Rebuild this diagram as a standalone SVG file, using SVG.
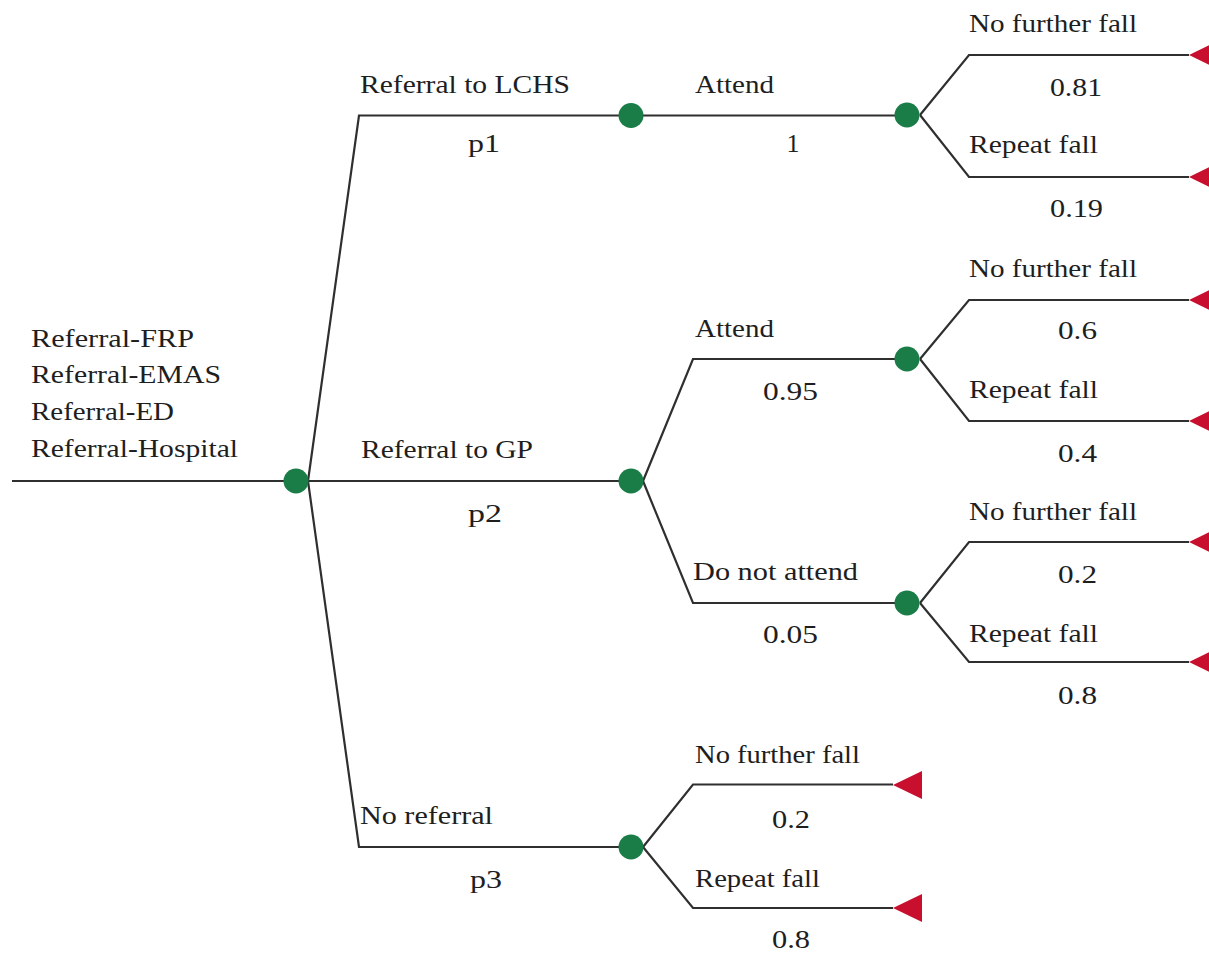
<svg xmlns="http://www.w3.org/2000/svg" width="1209" height="957" viewBox="0 0 1209 957">
<defs>
<style>
.bg{fill:#ffffff}
.edge{fill:none;stroke:#2f2f2f;stroke-width:2.2;stroke-linejoin:miter}
.chance{fill:#1a7c46}
.term{fill:#c8102e}
text{font-family:"Liberation Serif","Times New Roman",serif;font-size:26px;fill:#1e1e1e}
.mid{text-anchor:middle}
</style>
</defs>
<rect class="bg" x="0" y="0" width="1209" height="957"/>
<g id="connectors">
<path class="edge" d="M12 481 H296"/>
<path class="edge" d="M308 481 L359 115.5 H631"/>
<path class="edge" d="M308 481 H631"/>
<path class="edge" d="M308 481 L359 847 H631"/>
<path class="edge" d="M631 115.5 H907"/>
<path class="edge" d="M920 115 L969 55 H1189"/>
<path class="edge" d="M920 115 L969 177 H1189"/>
<path class="edge" d="M643 481 L693 359 H907"/>
<path class="edge" d="M643 481 L693 603 H907"/>
<path class="edge" d="M920 359 L969 300 H1189"/>
<path class="edge" d="M920 359 L969 421 H1189"/>
<path class="edge" d="M920 603 L969 542 H1189"/>
<path class="edge" d="M920 603 L969 662 H1189"/>
<path class="edge" d="M643 847 L693 784.5 H893"/>
<path class="edge" d="M643 847 L693 908 H893"/>
</g>
<g id="labels">
<text x="31" y="347" textLength="163" lengthAdjust="spacingAndGlyphs">Referral-FRP</text>
<text x="31" y="383" textLength="190" lengthAdjust="spacingAndGlyphs">Referral-EMAS</text>
<text x="31" y="420" textLength="143" lengthAdjust="spacingAndGlyphs">Referral-ED</text>
<text x="31" y="457" textLength="207" lengthAdjust="spacingAndGlyphs">Referral-Hospital</text>
<text x="360" y="93" textLength="210" lengthAdjust="spacingAndGlyphs">Referral to LCHS</text>
<text x="468" y="152" textLength="32" lengthAdjust="spacingAndGlyphs">p1</text>
<text x="361" y="458" textLength="172" lengthAdjust="spacingAndGlyphs">Referral to GP</text>
<text x="468" y="522" textLength="34" lengthAdjust="spacingAndGlyphs">p2</text>
<text x="360" y="824" textLength="133" lengthAdjust="spacingAndGlyphs">No referral</text>
<text x="470" y="888" textLength="32" lengthAdjust="spacingAndGlyphs">p3</text>
<text x="695" y="93" textLength="79" lengthAdjust="spacingAndGlyphs">Attend</text>
<text x="793" y="152" class="mid">1</text>
<text x="695" y="337" textLength="79" lengthAdjust="spacingAndGlyphs">Attend</text>
<text x="763" y="400" textLength="55" lengthAdjust="spacingAndGlyphs">0.95</text>
<text x="693" y="580" textLength="165" lengthAdjust="spacingAndGlyphs">Do not attend</text>
<text x="763" y="643" textLength="55" lengthAdjust="spacingAndGlyphs">0.05</text>
<text x="695" y="763" textLength="165" lengthAdjust="spacingAndGlyphs">No further fall</text>
<text x="772" y="828" textLength="38" lengthAdjust="spacingAndGlyphs">0.2</text>
<text x="695" y="887" textLength="125" lengthAdjust="spacingAndGlyphs">Repeat fall</text>
<text x="772" y="948" textLength="38" lengthAdjust="spacingAndGlyphs">0.8</text>
<text x="969" y="32" textLength="168" lengthAdjust="spacingAndGlyphs">No further fall</text>
<text x="1050" y="96" textLength="52" lengthAdjust="spacingAndGlyphs">0.81</text>
<text x="969" y="153" textLength="129" lengthAdjust="spacingAndGlyphs">Repeat fall</text>
<text x="1050" y="217" textLength="53" lengthAdjust="spacingAndGlyphs">0.19</text>
<text x="969" y="277" textLength="168" lengthAdjust="spacingAndGlyphs">No further fall</text>
<text x="1058" y="339" textLength="39" lengthAdjust="spacingAndGlyphs">0.6</text>
<text x="969" y="398" textLength="129" lengthAdjust="spacingAndGlyphs">Repeat fall</text>
<text x="1058" y="462" textLength="39" lengthAdjust="spacingAndGlyphs">0.4</text>
<text x="969" y="520" textLength="168" lengthAdjust="spacingAndGlyphs">No further fall</text>
<text x="1058" y="583" textLength="39" lengthAdjust="spacingAndGlyphs">0.2</text>
<text x="969" y="642" textLength="129" lengthAdjust="spacingAndGlyphs">Repeat fall</text>
<text x="1058" y="704" textLength="39" lengthAdjust="spacingAndGlyphs">0.8</text>
</g>
<g id="n-root"><circle class="chance" cx="296" cy="481" r="12.5"/></g>
<g id="n-lchs"><circle class="chance" cx="631" cy="115.5" r="12.5"/></g>
<g id="n-gp"><circle class="chance" cx="631" cy="481" r="12.5"/></g>
<g id="n-noref"><circle class="chance" cx="631" cy="847" r="12.5"/></g>
<g id="n-lchs-attend"><circle class="chance" cx="907" cy="115" r="12.5"/></g>
<g id="n-gp-attend"><circle class="chance" cx="907" cy="359" r="12.5"/></g>
<g id="n-gp-noattend"><circle class="chance" cx="907" cy="603" r="12.5"/></g>
<g id="t1"><polygon class="term" points="1189,55 1218,41 1218,69"/></g>
<g id="t2"><polygon class="term" points="1189,177 1218,163 1218,191"/></g>
<g id="t3"><polygon class="term" points="1189,300 1218,286 1218,314"/></g>
<g id="t4"><polygon class="term" points="1189,421 1218,407 1218,435"/></g>
<g id="t5"><polygon class="term" points="1189,542 1218,528 1218,556"/></g>
<g id="t6"><polygon class="term" points="1189,662 1218,648 1218,676"/></g>
<g id="t7"><polygon class="term" points="893,785 922,771 922,799"/></g>
<g id="t8"><polygon class="term" points="893,908 922,894 922,922"/></g>
</svg>
